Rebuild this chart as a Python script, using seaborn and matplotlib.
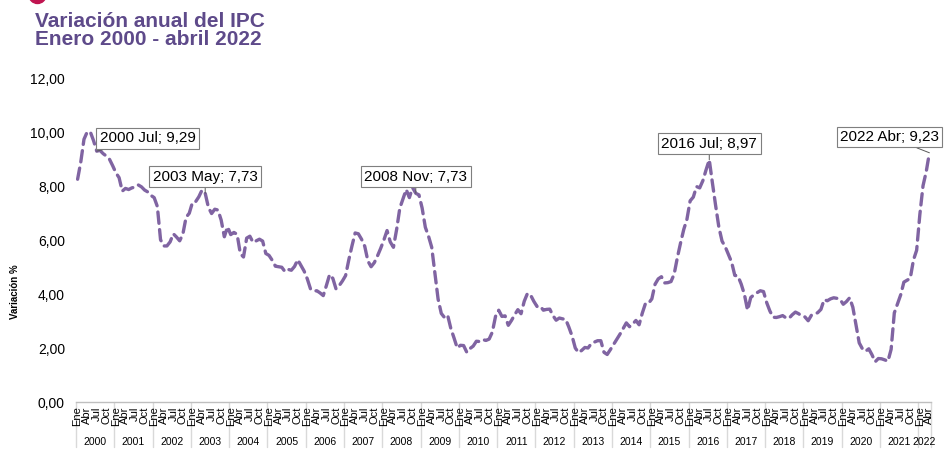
import matplotlib
matplotlib.use("Agg")
import matplotlib.pyplot as plt
from matplotlib.patches import Ellipse
from matplotlib.transforms import blended_transform_factory
import seaborn as sns
import pandas as pd

# ---- data (annual CPI variation %, monthly) ----
y2000 = [8.25, 8.89, 9.73, 10.00, 10.00, 9.68, 9.29, 9.32, 9.20, 9.11, 8.99, 8.75]
y2001 = [8.49, 8.31, 7.81, 7.91, 7.87, 7.93, 7.96, 8.04, 7.97, 7.85, 7.78, 7.65]
y2002 = [7.57, 7.24, 6.01, 5.78, 5.78, 5.93, 6.23, 6.11, 5.97, 6.22, 6.84, 6.99]
y2003 = [7.39, 7.42, 7.60, 7.85, 7.73, 7.21, 6.98, 7.14, 7.11, 6.74, 6.12, 6.49]
y2004 = [6.20, 6.28, 6.21, 5.50, 5.37, 6.07, 6.14, 5.91, 5.97, 6.03, 5.96, 5.50]
y2005 = [5.43, 5.25, 5.03, 5.01, 4.99, 4.83, 4.91, 4.88, 5.02, 5.27, 5.06, 4.85]
y2006 = [4.56, 4.19, 4.11, 4.12, 4.04, 3.94, 4.32, 4.72, 4.58, 4.19, 4.31, 4.48]
y2007 = [4.68, 5.26, 5.78, 6.26, 6.23, 6.03, 5.77, 5.22, 5.01, 5.16, 5.41, 5.69]
y2008 = [6.00, 6.35, 5.93, 5.73, 6.39, 7.18, 7.52, 7.87, 7.57, 7.94, 7.73, 7.67]
y2009 = [7.18, 6.47, 6.14, 5.73, 4.76, 3.81, 3.28, 3.13, 3.21, 2.72, 2.37, 2.00]
y2010 = [2.10, 2.09, 1.84, 1.98, 2.07, 2.25, 2.24, 2.31, 2.28, 2.33, 2.59, 3.17]
y2011 = [3.40, 3.17, 3.19, 2.84, 3.02, 3.23, 3.42, 3.27, 3.73, 4.02, 3.96, 3.73]
y2012 = [3.54, 3.55, 3.40, 3.43, 3.44, 3.20, 3.03, 3.11, 3.08, 3.06, 2.77, 2.44]
y2013 = [2.00, 1.83, 1.91, 2.02, 2.00, 2.16, 2.22, 2.27, 2.27, 1.84, 1.76, 1.94]
y2014 = [2.13, 2.32, 2.51, 2.72, 2.93, 2.79, 2.89, 3.02, 2.86, 3.29, 3.65, 3.66]
y2015 = [3.82, 4.36, 4.56, 4.64, 4.41, 4.42, 4.46, 4.74, 5.35, 5.89, 6.39, 6.77]
y2016 = [7.45, 7.59, 7.98, 7.93, 8.20, 8.60, 8.97, 8.10, 7.27, 6.48, 5.96, 5.75]
y2017 = [5.47, 5.18, 4.69, 4.66, 4.37, 3.99, 3.40, 3.87, 3.97, 4.05, 4.12, 4.09]
y2018 = [3.68, 3.37, 3.14, 3.13, 3.16, 3.20, 3.12, 3.10, 3.23, 3.33, 3.27, 3.18]
y2019 = [3.15, 3.01, 3.21, 3.25, 3.31, 3.43, 3.79, 3.75, 3.82, 3.86, 3.84, 3.80]
y2020 = [3.62, 3.72, 3.86, 3.51, 2.85, 2.19, 1.97, 1.88, 1.97, 1.75, 1.49, 1.61]
y2021 = [1.60, 1.56, 1.51, 1.95, 3.30, 3.63, 3.97, 4.44, 4.51, 4.58, 5.26, 5.62]
y2022 = [6.94, 8.01, 8.53, 9.23]

yearly = [y2000, y2001, y2002, y2003, y2004, y2005, y2006, y2007, y2008, y2009,
          y2010, y2011, y2012, y2013, y2014, y2015, y2016, y2017, y2018, y2019,
          y2020, y2021, y2022]
years = list(range(2000, 2023))
month_names = ["Ene", "Feb", "Mar", "Abr", "May", "Jun",
               "Jul", "Ago", "Sep", "Oct", "Nov", "Dic"]
tick_months = ["Ene", "Abr", "Jul", "Oct"]

values = [v for ys in yearly for v in ys]
df = pd.DataFrame({"idx": range(len(values)), "ipc": values})

# annotations: (year, month index, value)
annot_labels = ["2000 Jul; 9,29", "2003 May; 7,73", "2008 Nov; 7,73",
                "2016 Jul; 8,97", "2022 Abr; 9,23"]
annot_year = [2000, 2003, 2008, 2016, 2022]
annot_month = [6, 4, 10, 6, 3]
annot_value = [9.29, 7.73, 7.73, 8.97, 9.23]
annot_box = [(21.9, 9.76), (40.0, 8.35), (106.0, 8.35), (198.0, 9.57), (254.5, 9.81)]

# ---- figure ----
sns.set_theme(style="white")
plt.rcParams["font.family"] = ["Liberation Sans", "DejaVu Sans"]

fig = plt.figure(figsize=(9.48, 4.72), dpi=100)
ax = fig.add_axes([76 / 948, 70 / 472, (931 - 76) / 948, 324 / 472])

line_color = "#8064A2"
sns.lineplot(data=df, x="idx", y="ipc", ax=ax, color=line_color, linewidth=2.4)
ax.lines[0].set_dashes([3.4, 1.9])
ax.lines[0].set_dash_capstyle("round")

n = len(values)
ax.set_xlim(-0.5, n - 0.5)
ax.set_ylim(0, 12)
ax.set_yticks([0, 2, 4, 6, 8, 10, 12])
ax.set_yticklabels([f"{t:.2f}".replace(".", ",") for t in [0, 2, 4, 6, 8, 10, 12]],
                   fontsize=10, color="black")
ax.tick_params(axis="y", length=0, pad=8)

ticks = [i for i in range(n) if month_names[i % 12] in tick_months]
ax.set_xticks(ticks)
ax.set_xticklabels([month_names[i % 12] for i in ticks], rotation=90, fontsize=8,
                   color="black")
ax.tick_params(axis="x", length=0, pad=3)
ax.xaxis.set_zorder(3)
ax.set_xlabel("")
ax.set_ylabel("")

for s in ["top", "right", "left"]:
    ax.spines[s].set_visible(False)
ax.spines["bottom"].set_color("#BFBFBF")
ax.spines["bottom"].set_linewidth(1.0)
ax.grid(False)

# year labels and separators
trans = blended_transform_factory(ax.transData, ax.transAxes)
start = 0
for yr, ys in zip(years, yearly):
    end = start + len(ys)
    ax.text((start + end - 1) / 2, -0.124, str(yr), transform=trans,
            ha="center", va="center", fontsize=7.5, color="black")
    ax.plot([start - 0.5, start - 0.5], [0, -0.14], transform=trans,
            color="#D9D9D9", lw=1.0, clip_on=False, zorder=0.5)
    start = end
ax.plot([n - 0.5, n - 0.5], [0, -0.14], transform=trans,
        color="#D9D9D9", lw=1.0, clip_on=False, zorder=0.5)

# annotations
for lab, yr, m, v, (bx, by) in zip(annot_labels, annot_year, annot_month,
                                   annot_value, annot_box):
    i = (yr - 2000) * 12 + m
    ax.annotate(lab, xy=(i, v), xytext=(bx, by), textcoords="data",
                ha="center", va="center", fontsize=11, color="black",
                bbox=dict(boxstyle="square,pad=0.22", fc="white", ec="#7F7F7F", lw=0.8),
                arrowprops=dict(arrowstyle="-", color="#595959", lw=0.7,
                                shrinkA=0, shrinkB=0),
                annotation_clip=False, zorder=5)

# title
fig.text(35 / 948, 1 - 12 / 472, "Variación anual del IPC\nEnero 2000 - abril 2022",
         ha="left", va="top", fontsize=15, fontweight="bold", color="#5E4A8A",
         linespacing=0.95)
fig.text(15 / 948, 1 - 292 / 472, "Variación %", rotation=90, ha="center",
         va="center", fontsize=7, fontweight="bold", color="black")

# decorative dot top-left
fig.add_artist(Ellipse((37.5 / 948, 1 + 5 / 472), 17 / 948, 17 / 472,
                       transform=fig.transFigure, color="#C01450", clip_on=False))

fig.savefig("out.png", dpi=100)
